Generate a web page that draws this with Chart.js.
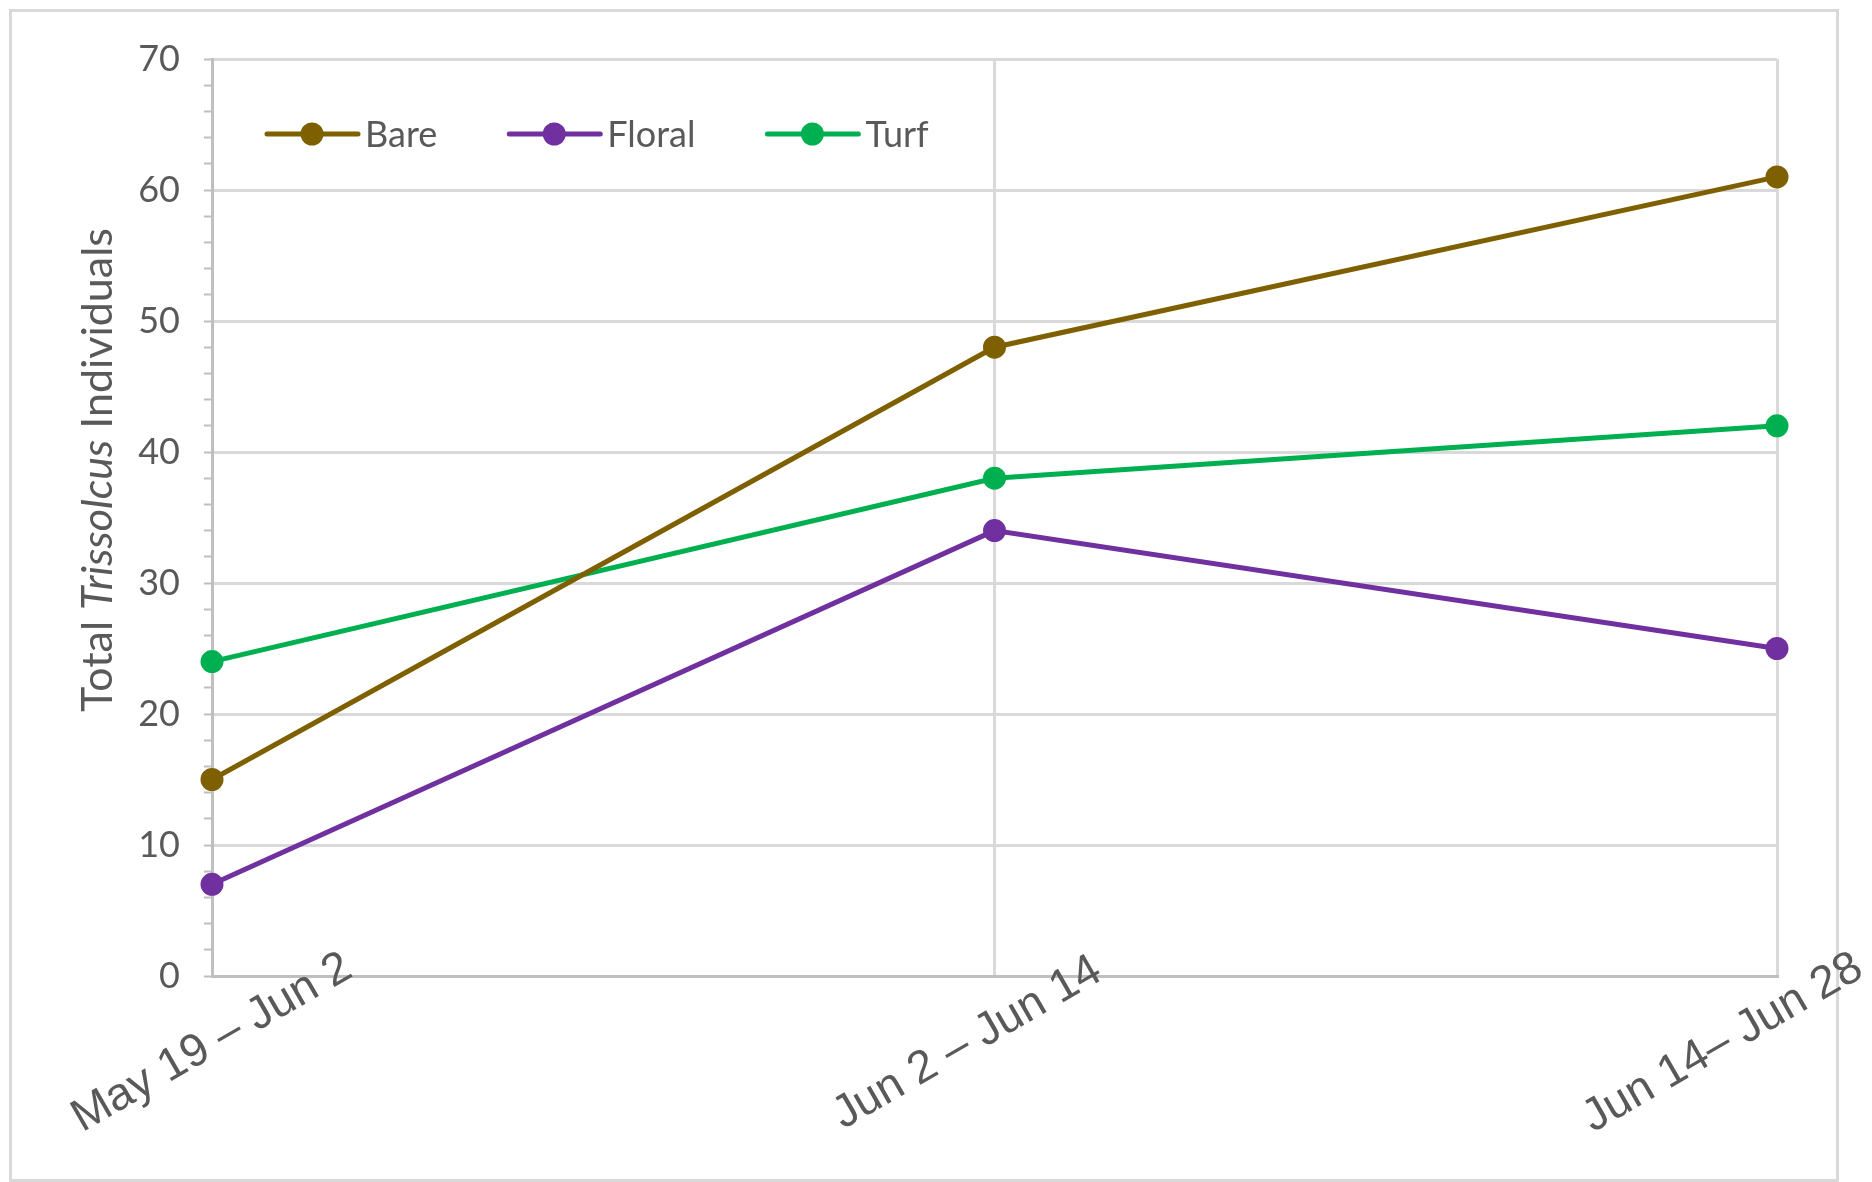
<!DOCTYPE html>
<html>
<head>
<meta charset="utf-8">
<title>Trissolcus counts by habitat</title>
<script src="https://cdn.jsdelivr.net/npm/chart.js@4"></script>
<style>
  html, body { margin: 0; padding: 0; background: #fff; }
  canvas { display: block; }
</style>
</head>
<body>
<canvas id="trissolcusChart" width="1872" height="1182"></canvas>
<script>
// sampling periods and totals per habitat
const periods = ['May 19 – Jun 2', 'Jun 2 – Jun 14', 'Jun 14– Jun 28'];
const bare = [15, 48, 61];
const floral = [7, 34, 25];
const turf = [24, 38, 42];

const textGrey = '#595959';
const gridGrey = '#d9d9d9';
const axisGrey = '#bfbfbf';

// frame, rotated period labels, axis title and inline legend
const decorations = {
    id: 'decorations',
    beforeDraw(chart) {
        const c = chart.ctx;
        c.save();
        c.fillStyle = '#fff';
        c.fillRect(0, 0, chart.width, chart.height);
        c.strokeStyle = gridGrey;
        c.lineWidth = 3;
        c.strokeRect(10.5, 10.5, 1827, 1170);
        c.restore();
    },
    afterDraw(chart) {
        const c = chart.ctx;
        const xScale = chart.scales.x;

        // period labels, tilted 30 degrees, drifting left a little per step
        c.save();
        c.fillStyle = textGrey;
        c.font = '46px "Liberation Sans", Arial, sans-serif';
        c.textAlign = 'center';
        c.textBaseline = 'middle';
        periods.forEach(function (p, i) {
            const x = xScale.getPixelForValue(i) - 27 * i;
            c.save();
            c.translate(x, 1043);
            c.rotate(-Math.PI / 6);
            c.fillText(p, 0, 0);
            c.restore();
        });
        c.restore();

        // y axis title with italic genus name
        const parts = [
            ['Total ', '43px Lato, sans-serif'],
            ['Trissolcus', 'italic 43px Lato, sans-serif'],
            [' Individuals', '43px Lato, sans-serif']
        ];
        c.save();
        c.fillStyle = textGrey;
        c.textBaseline = 'alphabetic';
        let total = 0;
        parts.forEach(function (p) { c.font = p[1]; total += c.measureText(p[0]).width; });
        c.translate(112, 470);
        c.rotate(-Math.PI / 2);
        let pos = -total / 2;
        parts.forEach(function (p) {
            c.font = p[1];
            c.fillText(p[0], pos, 0);
            pos += c.measureText(p[0]).width;
        });
        c.restore();

        // legend drawn inside the plot area
        c.save();
        c.font = '36px Lato, sans-serif';
        c.textBaseline = 'middle';
        c.textAlign = 'left';
        let lx = 267;
        const ly = 134;
        chart.data.datasets.forEach(function (ds) {
            c.strokeStyle = ds.borderColor;
            c.lineWidth = 5;
            c.lineCap = 'round';
            c.beginPath();
            c.moveTo(lx, ly);
            c.lineTo(lx + 91, ly);
            c.stroke();
            c.fillStyle = ds.borderColor;
            c.beginPath();
            c.arc(lx + 45, ly, 11.5, 0, Math.PI * 2);
            c.fill();
            c.fillStyle = textGrey;
            c.fillText(ds.label, lx + 98, ly + 1);
            lx += 98 + c.measureText(ds.label).width + 72;
        });
        c.restore();
    }
};

const series = [
    ['Bare', bare, '#7f6000'],
    ['Floral', floral, '#7030a0'],
    ['Turf', turf, '#00b050']
];

new Chart(document.getElementById('trissolcusChart'), {
    type: 'line',
    data: {
        labels: periods,
        datasets: series.map(function (s) {
            return {
                label: s[0],
                data: s[1],
                borderColor: s[2],
                backgroundColor: s[2],
                pointBackgroundColor: s[2],
                pointBorderColor: s[2],
                borderWidth: 5,
                pointRadius: 10,
                pointBorderWidth: 3,
                tension: 0,
                fill: false
            };
        })
    },
    options: {
        responsive: false,
        animation: false,
        devicePixelRatio: 1,
        layout: { padding: { left: 0, top: 59, right: 95, bottom: 0 } },
        plugins: {
            legend: { display: false },
            tooltip: { enabled: false }
        },
        scales: {
            x: {
                type: 'category',
                offset: false,
                ticks: { display: false },
                grid: { color: gridGrey, lineWidth: 3, drawTicks: false },
                border: { color: axisGrey, width: 3 },
                afterFit(scale) {
                    scale.height = 206;
                    scale.paddingLeft = 0;
                    scale.paddingRight = 0;
                }
            },
            y: {
                min: 0,
                max: 70,
                ticks: {
                    stepSize: 2,
                    autoSkip: false,
                    padding: 24,
                    color: textGrey,
                    font: { family: 'Lato', size: 36 },
                    callback: function (v) { return v % 10 === 0 ? v : ''; }
                },
                grid: {
                    color: function (ctx) { return ctx.tick && ctx.tick.value % 10 === 0 ? gridGrey : 'rgba(0,0,0,0)'; },
                    lineWidth: 3,
                    tickColor: axisGrey,
                    tickLength: 8,
                    tickWidth: 2
                },
                border: { color: axisGrey, width: 3 },
                afterFit(scale) {
                    scale.width = 212;
                    scale.paddingTop = 0;
                    scale.paddingBottom = 0;
                }
            }
        }
    },
    plugins: [decorations]
});
</script>
</body>
</html>
